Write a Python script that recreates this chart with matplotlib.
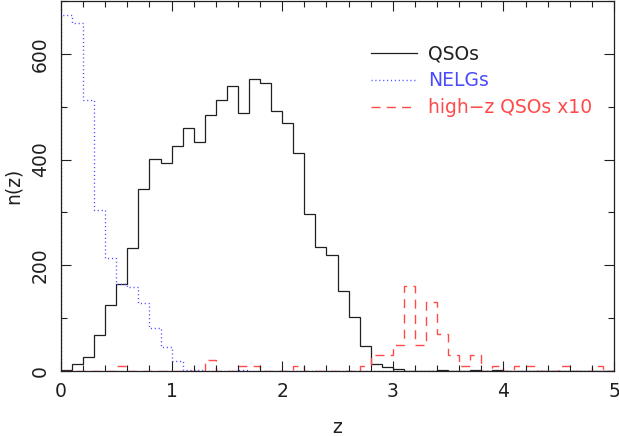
import matplotlib
matplotlib.use('Agg')
import matplotlib.pyplot as plt
import numpy as np

# Redshift bins (width 0.1 from z=0 to z=5) #################################
z_edges = np.linspace(0.0, 5.0, 51)

# QSOs: counts per bin
n_qso = [1, 13, 26, 69, 125, 164, 233, 345, 401, 394,
         425, 460, 433, 485, 513, 540, 489, 552, 545, 491,
         470, 412, 297, 235, 219, 152, 102, 47, 14, 8,
         3, 0, 0, 0, 1, 0, 0, 1, 0, 1,
         0, 0, 0, 0, 0, 0, 0, 0, 0, 0]
# NELGs: counts per bin
n_nelg = [674, 658, 513, 304, 214, 164, 158, 129, 81, 46,
          19, 1, 1, 0, 0, 0, 1, 0, 0, 0,
          0, 0, 0, 0, 0, 0, 0, 0, 0, 0,
          0, 0, 0, 0, 0, 0, 0, 0, 0, 0,
          0, 0, 0, 0, 0, 0, 0, 0, 0, 0]
# high-z QSOs, already multiplied by 10
n_hiz = [0, 0, 0, 0, 0, 10, 0, 0, 0, 0,
         0, 0, 0, 20, 0, 0, 10, 10, 0, 0,
         0, 10, 0, 0, 0, 0, 0, 10, 30, 30,
         50, 160, 50, 130, 70, 30, 10, 30, 0, 10,
         0, 10, 10, 0, 0, 10, 0, 0, 10, 0]

labels = ['QSOs', 'NELGs', 'high\u2212z QSOs x10']
colors = ['#202020', '#4a4aff', '#ff4a4a']

plt.rcParams['font.family'] = ['DejaVu Sans']
plt.rcParams['font.size'] = 13.5

fig = plt.figure(figsize=(6.19, 4.36), dpi=100)
ax = fig.add_axes([61/619, 65/436, 553/619, 370/436])

h1 = ax.stairs(n_qso, z_edges, color=colors[0], lw=0.9, label=labels[0])
h2 = ax.stairs(n_nelg, z_edges, color=colors[1], lw=1.0,
               linestyle=(0, (0.8, 2.0)), label=labels[1])
h3 = ax.stairs(n_hiz, z_edges, color=colors[2], lw=1.0,
               linestyle=(0, (6.5, 4.5)), label=labels[2])

ax.set_xlim(0, 5)
ax.set_ylim(0, 700)
ax.set_xticks([0, 1, 2, 3, 4, 5])
ax.set_xticks(np.arange(0, 5.01, 0.2), minor=True)
ax.set_yticks([0, 200, 400, 600])
ax.set_yticks(np.arange(0, 701, 100), minor=True)
ax.tick_params(which='both', direction='in', top=True, right=True,
               width=0.8, color='#202020', labelcolor='#202020')
ax.tick_params(which='major', length=7.2, pad=8)
ax.tick_params(which='minor', length=4.3)
for lab in ax.get_yticklabels():
    lab.set_rotation(90)
    lab.set_va('center')
for sp in ax.spines.values():
    sp.set_linewidth(0.9)
    sp.set_color('#202020')

ax.set_xlabel('z', color='#202020', va='baseline')
ax.xaxis.set_label_coords(0.5, -0.168)
ax.set_ylabel('n(z)', labelpad=6, color='#202020')

leg = ax.legend(handles=[h1, h2, h3], loc='center left',
                bbox_to_anchor=(0.56, 0.784), frameon=False,
                borderpad=0, borderaxespad=0, handlelength=2.45,
                handletextpad=0.6, labelspacing=0.42)
for txt, c in zip(leg.get_texts(), colors):
    txt.set_color(c)

fig.savefig('out.png', dpi=100)
